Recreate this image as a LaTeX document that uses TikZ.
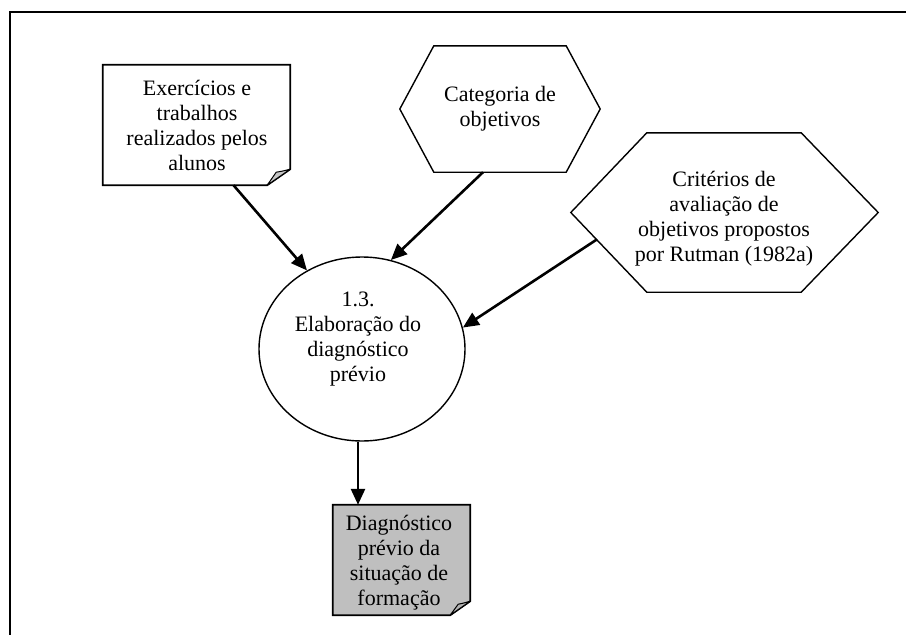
\documentclass[tikz,border=0pt]{standalone}
\usepackage{fontspec}
\setmainfont{Liberation Serif}
\usetikzlibrary{shapes.geometric,arrows.meta,calc}
\begin{document}
\begin{tikzpicture}[x=1pt,y=-1pt,
  box/.style={draw=none,minimum width=#1,inner sep=0pt},
  txt/.style={align=center,inner sep=0pt,font=\fontsize{22}{25}\selectfont},
  shp/.style={line width=1.4pt,line join=miter},
  arr/.style={line width=2.6pt,-{Triangle[length=16pt,width=14pt]}},
  flap/.style={fill=gray!45,line width=1pt,line join=round}]
\useasboundingbox (0,0) rectangle (906,635);
% frame
\draw[line width=2pt] (10,635) -- (10,12) -- (906,12);
% document 1
\node[box=187pt,minimum height=120pt] (doc1) at (196.5,125) {};
\draw[line width=1.8pt] (doc1.north west) -- (doc1.north east) -- ($(doc1.south east)+(0,-16)$) -- ($(doc1.south east)+(-23,0)$) -- (doc1.south west) -- cycle;
\draw[flap] ($(doc1.south east)+(-23,0)$) -- ($(doc1.south east)+(0,-16)$) .. controls ($(doc1.south east)+(-8,-14)$) .. ($(doc1.south east)+(-14,-13)$) -- cycle;
\node[txt] (doc1t) at (197,125) {Exercícios e\\trabalhos\\realizados pelos\\alunos};
% hexagon A
\node[box=200pt,minimum height=126pt] (hexA) at (500,109) {};
\draw[shp] (hexA.west) -- ($(hexA.north west)+(34,0)$) -- ($(hexA.north east)+(-34,0)$) -- (hexA.east) -- ($(hexA.south east)+(-34,0)$) -- ($(hexA.south west)+(34,0)$) -- cycle;
\node[txt] (hexAt) at (500,109) {Categoria de\\objetivos};
% hexagon B
\node[box=307pt,minimum height=159pt] (hexB) at (724.5,212.5) {};
\coordinate (hexBsw) at ($(hexB.south west)+(76,0)$);
\draw[shp] (hexB.west) -- ($(hexB.north west)+(76,0)$) -- ($(hexB.north east)+(-77,0)$) -- (hexB.east) -- ($(hexB.south east)+(-77,0)$) -- (hexBsw) -- cycle;
\node[txt] (hexBt) at (724,219) {Critérios de\\avaliação de\\objetivos propostos\\por Rutman (1982a)};
% ellipse
\node[draw,ellipse,line width=1.4pt,minimum width=206pt,minimum height=184pt,inner sep=0pt] (ell) at (362,349) {};
\node[txt] (ellt) at (358,339) {1.3.\\Elaboração do\\diagnóstico\\prévio};
% grey document
\node[box=137pt,minimum height=110pt] (grey) at (401.5,560) {};
\draw[line width=1.8pt,fill=gray!50] (grey.north west) -- (grey.north east) -- ($(grey.south east)+(0,-14)$) -- ($(grey.south east)+(-20,0)$) -- (grey.south west) -- cycle;
\draw[flap,fill=gray!60] ($(grey.south east)+(-20,0)$) -- ($(grey.south east)+(0,-14)$) .. controls ($(grey.south east)+(-7,-12)$) .. ($(grey.south east)+(-12,-11)$) -- cycle;
\node[txt] (greyt) at (399,563) {Diagnóstico\\prévio da\\situação de\\formação};
% arrows
\draw[arr] ($(doc1.south)+(37,0)$) -- (ell.125);
\draw[arr] ($(hexA.south)+(-17,0)$) -- (ell.72);
\draw[arr] ($(hexB.west)!0.34!(hexBsw)$) -- (ell.12);
\coordinate (ellb) at ($(ell.south)+(-4,0)$);
\draw[arr] (ellb) -- (ellb |- grey.north);
\end{tikzpicture}
\end{document}
